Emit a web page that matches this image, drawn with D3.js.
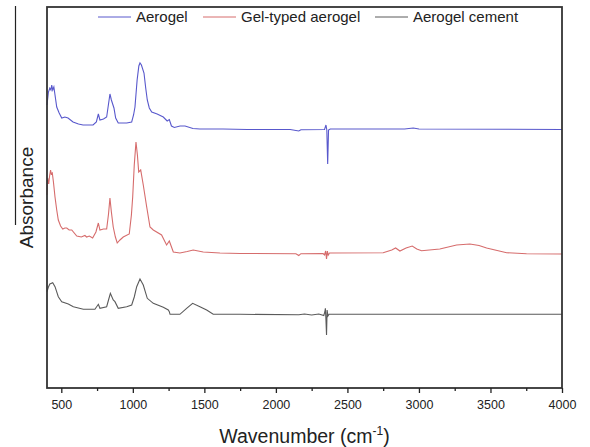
<!DOCTYPE html>
<html><head><meta charset="utf-8">
<script src="https://cdn.jsdelivr.net/npm/d3@7"></script>
<style>body{margin:0;background:#fff}svg{display:block}</style>
</head><body>
<svg id="c" width="590" height="447"></svg>
<script>
// ---- data (wavenumber cm-1, absorbance a.u., stacked offsets included) ----
const seriesNames = ["Aerogel", "Gel-typed aerogel", "Aerogel cement"];
const seriesColors = ["#5858cc", "#d66c6c", "#5a5a5a"];
const majorTicks = [500, 1000, 1500, 2000, 2500, 3000, 3500, 4000];
const minorTicks = [750, 1250, 1750, 2250, 2750, 3250, 3750];

const aerogelWn = [400,410,420,428,433,440,448,456,468,485,503,525,547,582,620,652,722,745,759,770,795,817,830,840,850,868,880,898,957,992,1005,1015,1030,1042,1050,1060,1078,1090,1101,1115,1132,1170,1213,1240,1255,1270,1290,1330,1365,1420,1469,1630,1800,2100,2160,2175,2340,2350,2356,2362,2368,2380,2900,2960,3000,4000];
const aerogelAbs = [2.83,2.96,3.00,2.98,3.03,2.98,3.01,2.93,2.81,2.75,2.70,2.71,2.70,2.66,2.64,2.63,2.63,2.66,2.74,2.68,2.69,2.71,2.84,2.94,2.88,2.80,2.70,2.65,2.65,2.66,2.73,2.81,3.08,3.22,3.25,3.23,3.15,3.00,2.88,2.80,2.76,2.74,2.71,2.67,2.685,2.62,2.605,2.62,2.62,2.595,2.59,2.59,2.585,2.585,2.57,2.582,2.585,2.63,2.58,2.24,2.58,2.59,2.59,2.60,2.59,2.585];

const gelWn = [400,405,412,418,425,430,437,445,456,468,479,495,510,525,538,555,573,608,640,665,677,696,719,742,759,770,795,817,830,840,850,863,878,891,910,933,975,990,999,1010,1022,1032,1041,1055,1073,1097,1120,1143,1201,1236,1255,1283,1329,1380,1422,1492,1609,1750,2140,2160,2175,2330,2340,2348,2354,2360,2366,2375,2750,2810,2837,2867,2910,2953,2985,3018,3146,3263,3356,3420,3473,3613,3752,4000];
const gelAbs = [1.93,2.10,2.04,2.12,2.18,2.14,2.15,2.06,1.91,1.78,1.68,1.62,1.59,1.60,1.60,1.58,1.58,1.52,1.51,1.525,1.51,1.52,1.50,1.56,1.65,1.58,1.59,1.59,1.74,1.90,1.76,1.61,1.51,1.45,1.48,1.51,1.54,1.73,1.91,2.23,2.46,2.33,2.16,2.18,2.03,1.81,1.61,1.58,1.53,1.43,1.47,1.36,1.35,1.365,1.38,1.36,1.35,1.345,1.343,1.325,1.343,1.345,1.33,1.37,1.29,1.37,1.33,1.35,1.353,1.38,1.40,1.37,1.40,1.42,1.39,1.373,1.39,1.43,1.44,1.425,1.40,1.353,1.343,1.34];

const cementWn = [400,410,420,440,456,479,503,549,584,654,735,759,770,817,830,843,863,875,898,957,992,1010,1027,1050,1073,1101,1143,1213,1248,1255,1260,1329,1376,1418,1469,1516,1562,1750,2160,2200,2250,2300,2335,2342,2346,2350,2354,2358,2364,2372,4000];
const cementAbs = [0.963,1.01,1.04,1.053,1.013,0.913,0.863,0.84,0.813,0.787,0.787,0.837,0.797,0.813,0.88,0.947,0.88,0.863,0.797,0.813,0.83,0.91,1.013,1.09,1.03,0.897,0.847,0.807,0.78,0.763,0.737,0.737,0.797,0.847,0.813,0.78,0.737,0.737,0.732,0.74,0.73,0.74,0.725,0.76,0.797,0.68,0.53,0.78,0.72,0.737,0.737];

// ---- layout ----
const svg = d3.select("#c");
const L = 47, R = 562, T = 7, B = 388;
const x = d3.scaleLinear().domain([400, 4000]).range([L, R]);
const y = d3.scaleLinear().domain([0, 3.81]).range([B, T]);
const font = "Liberation Sans, Arial, sans-serif";

// stray vertical line at left edge of original figure
svg.append("line").attr("x1", 15.5).attr("x2", 15.5).attr("y1", 6).attr("y2", 225)
  .attr("stroke", "#222").attr("stroke-width", 1.2);

const series = [
  {name: seriesNames[0], wn: aerogelWn, a: aerogelAbs, color: seriesColors[0]},
  {name: seriesNames[1], wn: gelWn, a: gelAbs, color: seriesColors[1]},
  {name: seriesNames[2], wn: cementWn, a: cementAbs, color: seriesColors[2]}
];
const line = d3.line().x(d => x(d[0])).y(d => y(d[1]));
svg.append("g").selectAll("path").data(series).join("path")
  .attr("d", s => line(s.wn.map((w, i) => [w, s.a[i]])))
  .attr("fill", "none").attr("stroke", s => s.color).attr("stroke-width", 1.1);

// frame
svg.append("rect").attr("x", L).attr("y", T).attr("width", R - L).attr("height", B - T)
  .attr("fill", "none").attr("stroke", "#333").attr("stroke-width", 1.8);

// x axis
const gx = svg.append("g").attr("transform", `translate(0,${B})`);
gx.call(d3.axisBottom(x).tickValues(majorTicks).tickSize(5).tickPadding(7).tickFormat(d3.format("d")));
gx.append("g").call(d3.axisBottom(x).tickValues(minorTicks).tickSize(3).tickFormat(""));
gx.selectAll(".domain").remove();
gx.selectAll("line").attr("stroke", "#222").attr("stroke-width", 1.3);
gx.selectAll("text").attr("font-family", font).attr("font-size", 12.5).attr("fill", "#222");

// axis titles
const xt = svg.append("text").attr("x", (L + R) / 2).attr("y", 443).attr("text-anchor", "middle")
  .attr("font-family", font).attr("font-size", 19.5).attr("fill", "#222");
xt.append("tspan").text("Wavenumber (cm");
xt.append("tspan").attr("dy", -8).attr("font-size", 12).text("-1");
xt.append("tspan").attr("dy", 8).text(")");

svg.append("text").attr("transform", `translate(33,${(T + B) / 2}) rotate(-90)`)
  .attr("text-anchor", "middle").attr("font-family", font).attr("font-size", 19)
  .attr("fill", "#222").text("Absorbance");

// legend
const legX = [98, 203, 375];
const lg = svg.append("g").selectAll("g").data(series).join("g")
  .attr("transform", (d, i) => `translate(${legX[i]},17)`);
lg.append("line").attr("x1", 0).attr("x2", 33).attr("stroke", d => d.color).attr("stroke-width", 1);
lg.append("text").attr("x", 38).attr("y", 5).attr("font-family", font).attr("font-size", 15)
  .attr("fill", "#222").text(d => d.name);
</script>
</body></html>
